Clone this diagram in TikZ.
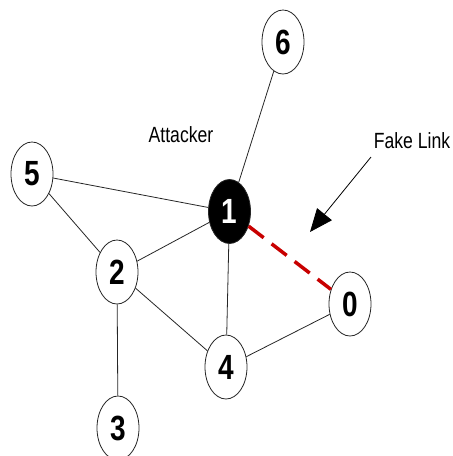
\documentclass[tikz,border=0pt]{standalone}
\usepackage{fontspec}
\setmainfont{Liberation Sans}
\usetikzlibrary{shapes.geometric,arrows.meta}
\definecolor{fakered}{HTML}{C80000}
\tikzset{
  nd/.style={ellipse,draw=black!85,line width=0.8pt,fill=white,minimum width=42pt,minimum height=64pt,inner sep=0pt,
    font=\fontsize{35}{35}\selectfont\bfseries},
  attk/.style={nd,fill=black,text=white},
  edge/.style={draw=black!85,line width=0.8pt},
  fake/.style={draw=fakered,line width=3.5pt,dash pattern=on 19pt off 10pt},
  lbl/.style={font=\fontsize{22}{22}\selectfont,inner sep=0pt},
  pointer/.style={draw=black,line width=0.8pt,-{Triangle[length=23pt,width=19pt]}}
}
\newcommand{\dg}[1]{\scalebox{0.8}[1]{#1}}
\begin{document}
\begin{tikzpicture}[x=1pt,y=1pt]
\useasboundingbox (0,0) rectangle (453,-456);
\node[nd] (n6) at (283,-42) {\dg{6}};
\node[nd] (n5) at (32,-174) {\dg{5}};
\node[attk] (n1) at (229.5,-211.5) {\dg{1}};
\node[nd] (n2) at (117,-272) {\dg{2}};
\node[nd] (n0) at (350,-304) {\dg{0}};
\node[nd] (n4) at (226,-367) {\dg{4}};
\node[nd] (n3) at (118,-428) {\dg{3}};
\draw[edge] (n5) -- (n1);
\draw[edge] (n5) -- (n2);
\draw[edge] (n2) -- (n1);
\draw[edge] (n2) -- (n4);
\draw[edge] (n2) -- (n3);
\draw[edge] (n1) -- (n4);
\draw[edge] (n1) -- (n6);
\draw[edge] (n4) -- (n0);
\draw[fake] (n1) -- (n0);
\node[lbl] (attacker) at (181,-135) {\scalebox{0.8}[1]{Attacker}};
\node[lbl] (fakelink) at (412,-141) {\scalebox{0.8}[1]{Fake Link}};
\coordinate (ps) at (371,-157);
\coordinate (pe) at (310,-232);
\draw[pointer] (ps) -- (pe);
\end{tikzpicture}
\end{document}
